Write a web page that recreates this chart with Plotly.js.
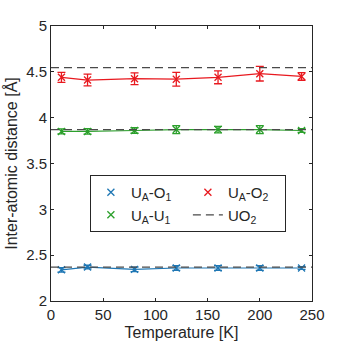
<!DOCTYPE html>
<html>
<head>
<meta charset="utf-8">
<script src="https://cdn.plot.ly/plotly-3.0.1.min.js"></script>
<style>html,body{margin:0;padding:0;background:#fff;}#chart{width:346px;height:346px;}</style>
</head>
<body>
<div id="chart"></div>
<script>
var temperature = [10, 35, 80, 120, 160, 200, 240];
var uaO1 = [2.34, 2.37, 2.345, 2.36, 2.36, 2.36, 2.36];
var uaO1Err = [0.025, 0.02, 0.025, 0.025, 0.025, 0.025, 0.015];
var uaO2 = [4.44, 4.41, 4.425, 4.42, 4.44, 4.48, 4.45];
var uaO2Err = [0.055, 0.064, 0.064, 0.075, 0.07, 0.08, 0.042];
var uaU1 = [3.85, 3.85, 3.86, 3.87, 3.87, 3.87, 3.86];
var uaU1Err = [0.027, 0.03, 0.03, 0.044, 0.035, 0.044, 0.02];
var refRange = [0, 250];
var uo2O1 = 2.37;
var uo2U1 = 3.87;
var uo2O2 = 4.545;
var seriesNames = ['U<sub>A</sub>-O<sub>1</sub>', 'U<sub>A</sub>-O<sub>2</sub>', 'U<sub>A</sub>-U<sub>1</sub>', 'UO<sub>2</sub>'];

var cBlue = '#1f77b4', cRed = '#e8191f', cGreen = '#2ca02c', cRef = '#4a4a4a';

function lineTrace(y, c) {
  return {x: temperature, y: y, mode: 'lines', line: {color: c, width: 1.2}, showlegend: false, hoverinfo: 'skip'};
}
function markTrace(y, e, c, name) {
  return {x: temperature, y: y, mode: 'markers', name: name,
    marker: {symbol: 'x-thin', size: 7, color: c, line: {color: c, width: 1.3}},
    error_y: {type: 'data', array: e, visible: true, color: c, thickness: 1.3, width: 4}};
}
function refTrace(v, show) {
  return {x: refRange, y: [v, v], mode: 'lines', name: seriesNames[3], showlegend: show,
    line: {color: cRef, width: 1.2, dash: '8px,5px'}};
}

var data = [
  lineTrace(uaO1, cBlue), lineTrace(uaO2, cRed), lineTrace(uaU1, cGreen),
  markTrace(uaO1, uaO1Err, cBlue, seriesNames[0]),
  markTrace(uaO2, uaO2Err, cRed, seriesNames[1]),
  markTrace(uaU1, uaU1Err, cGreen, seriesNames[2]),
  refTrace(uo2O1, true), refTrace(uo2U1, false), refTrace(uo2O2, false)
];

var axisBase = {showline: true, linecolor: '#262626', linewidth: 1, mirror: 'ticks',
  ticks: 'inside', ticklen: 3, tickcolor: '#262626', showgrid: false, zeroline: false,
  tickfont: {family: 'Liberation Sans, Arial, sans-serif', size: 15, color: '#262626'}};

var layout = {
  width: 346, height: 346,
  margin: {l: 51, r: 34, t: 26, b: 45},
  paper_bgcolor: '#fff', plot_bgcolor: '#fff',
  font: {family: 'Liberation Sans, Arial, sans-serif', size: 15, color: '#262626'},
  xaxis: Object.assign({}, axisBase, {range: [0, 250], tickvals: [0, 50, 100, 150, 200, 250],
    title: {text: 'Temperature [K]', font: {size: 16}, standoff: 4}}),
  yaxis: Object.assign({}, axisBase, {range: [2, 5], tickvals: [2, 2.5, 3, 3.5, 4, 4.5, 5],
    ticktext: ['2', '2.5', '3', '3.5', '4', '4.5', '5'],
    title: {text: 'Inter-atomic distance [Å]', font: {size: 16}, standoff: 4}}),
  legend: {orientation: 'h', x: 0.149, y: 0.458, xanchor: 'left', yanchor: 'top',
    bgcolor: '#fff', bordercolor: '#262626', borderwidth: 1, entrywidth: 52,
    font: {size: 15, color: '#262626'}, tracegroupgap: 0},
  showlegend: true
};

Plotly.newPlot('chart', data, layout, {displayModeBar: false, staticPlot: true});
</script>
</body>
</html>
